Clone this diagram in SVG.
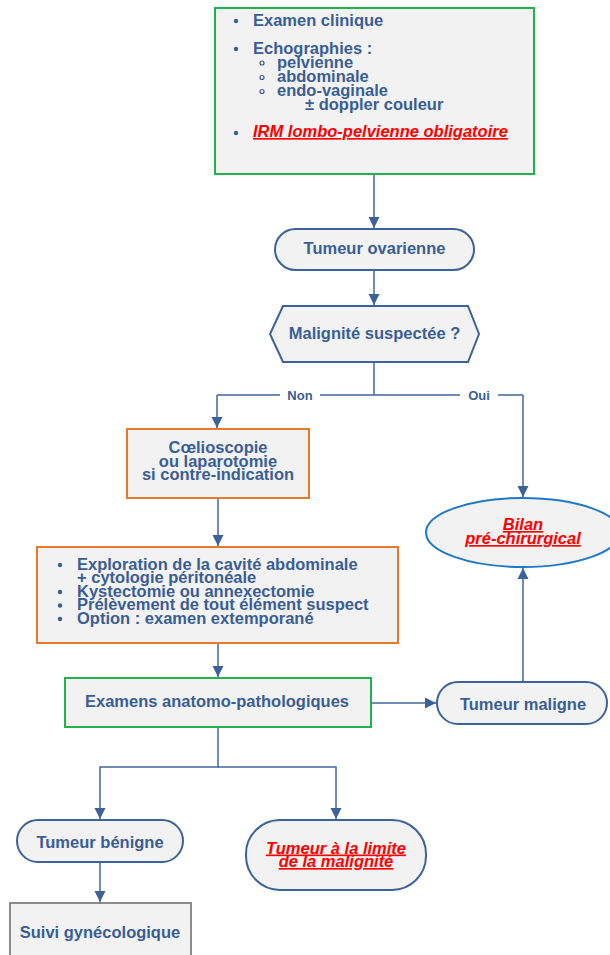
<svg xmlns="http://www.w3.org/2000/svg" width="610" height="955" viewBox="0 0 610 955">
<defs>
<style>
text{font-family:"Liberation Sans",Arial,sans-serif;font-weight:bold;font-size:16.5px;fill:#3a5e92}
.c{text-anchor:middle}
.red{fill:#ff0000;font-style:italic;text-decoration:underline}
.lbl{font-size:13px}
.box{fill:#f2f2f2;stroke-width:2}
.g{stroke:#22b24c}
.o{stroke:#e8782a}
.b{stroke:#3d6297}
.gr{stroke:#8c8c8c}
.e{stroke:#1f78c1}
.ln{fill:none;stroke:#41679c;stroke-width:1.5}
.dot{fill:#3a5e92}
.ring{fill:none;stroke:#3a5e92;stroke-width:1.2}
</style>
<marker id="ah" markerUnits="userSpaceOnUse" markerWidth="12" markerHeight="12" viewBox="0 0 12 12" refX="11" refY="6" orient="auto">
<path d="M0,0.5 L11,6 L0,11.5 Z" fill="#3d6297"/>
</marker>
</defs>

<g id="connectors">
<path class="ln" d="M374,174 V228" marker-end="url(#ah)"/>
<path class="ln" d="M374,270 V305" marker-end="url(#ah)"/>
<path class="ln" d="M374,362 V395"/>
<path class="ln" d="M217,395 H280 M320,395 H460 M498,395 H523"/>
<path class="ln" d="M217,395 V428" marker-end="url(#ah)"/>
<path class="ln" d="M523,395 V497" marker-end="url(#ah)"/>
<path class="ln" d="M218,498 V546" marker-end="url(#ah)"/>
<path class="ln" d="M218,643 V677" marker-end="url(#ah)"/>
<path class="ln" d="M371,703 H436" marker-end="url(#ah)"/>
<path class="ln" d="M523,682 V568" marker-end="url(#ah)"/>
<path class="ln" d="M218,727 V767 H100 V819" marker-end="url(#ah)"/>
<path class="ln" d="M218,767 H336 V819" marker-end="url(#ah)"/>
<path class="ln" d="M100,862 V902" marker-end="url(#ah)"/>
<text class="lbl c" x="300" y="399.5">Non</text>
<text class="lbl c" x="479" y="399.5">Oui</text>
</g>

<g id="examens-initiaux">
<rect class="box g" x="215" y="8" width="319" height="166"/>
<circle class="dot" cx="236" cy="21" r="2.2"/>
<text x="253" y="26">Examen clinique</text>
<circle class="dot" cx="236" cy="49" r="2.2"/>
<text x="253" y="54">Echographies :</text>
<circle class="ring" cx="262" cy="63" r="2"/>
<text x="277" y="68">pelvienne</text>
<circle class="ring" cx="262" cy="77.5" r="2"/>
<text x="277" y="82">abdominale</text>
<circle class="ring" cx="262" cy="91.5" r="2"/>
<text x="277" y="95.5">endo-vaginale</text>
<text x="305" y="109.5">± doppler couleur</text>
<circle class="dot" cx="236" cy="133" r="2.2"/>
<text class="red" x="253" y="137">IRM lombo-pelvienne obligatoire</text>
</g>

<g id="tumeur-ovarienne">
<rect class="box b" x="275" y="229" width="199" height="41" rx="20.5"/>
<text class="c" x="374.5" y="254">Tumeur ovarienne</text>
</g>

<g id="malignite-suspectee">
<path class="box b" d="M283,306 H468 L479,334 L468,362 H283 L270,334 Z"/>
<text class="c" x="374.5" y="339">Malignité suspectée ?</text>
</g>

<g id="coelioscopie">
<rect class="box o" x="127" y="429" width="182" height="69"/>
<text class="c" x="218" y="453">Cœlioscopie</text>
<text class="c" x="218" y="466.5">ou laparotomie</text>
<text class="c" x="218" y="480">si contre-indication</text>
</g>

<g id="exploration">
<rect class="box o" x="37" y="547" width="361" height="96"/>
<circle class="dot" cx="60" cy="565" r="2.2"/>
<text x="77" y="569.5">Exploration de la cavité abdominale</text>
<text x="77" y="583">+ cytologie péritonéale</text>
<circle class="dot" cx="60" cy="592" r="2.2"/>
<text x="77" y="596.5">Kystectomie ou annexectomie</text>
<circle class="dot" cx="60" cy="605.5" r="2.2"/>
<text x="77" y="610">Prélèvement de tout élément suspect</text>
<circle class="dot" cx="60" cy="619" r="2.2"/>
<text x="77" y="623.5">Option : examen extemporané</text>
</g>

<g id="anatomo-pathologiques">
<rect class="box g" x="65" y="678" width="306" height="49"/>
<text class="c" x="217" y="707">Examens anatomo-pathologiques</text>
</g>

<g id="tumeur-maligne">
<rect class="box b" x="437" y="682" width="170" height="42" rx="21"/>
<text class="c" x="523" y="710">Tumeur maligne</text>
</g>

<g id="bilan-pre-chirurgical">
<ellipse class="box e" cx="523" cy="532.5" rx="97" ry="34.5"/>
<text class="c red" x="523" y="530">Bilan</text>
<text class="c red" x="523" y="544">pré-chirurgical</text>
</g>

<g id="tumeur-benigne">
<rect class="box b" x="17" y="820" width="166" height="42" rx="21"/>
<text class="c" x="100" y="848">Tumeur bénigne</text>
</g>

<g id="tumeur-limite">
<rect class="box b" x="246" y="820" width="180" height="70" rx="34"/>
<text class="c red" x="336" y="853.5">Tumeur à la limite</text>
<text class="c red" x="336" y="867">de la malignité</text>
</g>

<g id="suivi-gynecologique">
<rect class="box gr" x="10" y="903" width="181" height="60"/>
<text class="c" x="100" y="938">Suivi gynécologique</text>
</g>
</svg>
